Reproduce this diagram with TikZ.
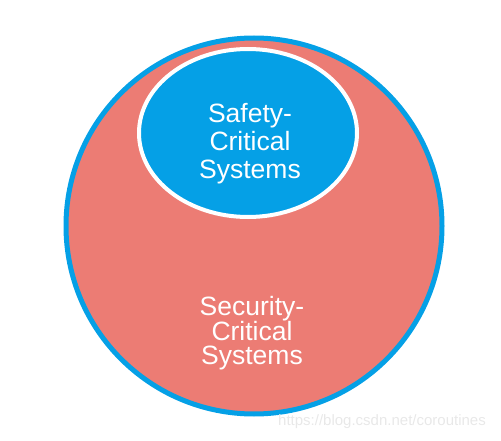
\documentclass[tikz,border=0pt]{standalone}
\usepackage{fontspec}
\setmainfont{Liberation Sans}
\usetikzlibrary{shapes.geometric}

\definecolor{safeblue}{RGB}{5,160,230}
\definecolor{securered}{RGB}{236,124,116}
\definecolor{markgray}{RGB}{232,232,232}

\tikzset{
  label text/.style={text=white, align=center},
}

\begin{document}
\begin{tikzpicture}[x=1pt, y=1pt]
            \useasboundingbox (0,0) rectangle (501,440);
            % --- outer circle: security-critical systems ---
            \node[circle, draw=safeblue, line width=5pt, fill=securered,
                  minimum size=376pt, inner sep=0pt] (security) at (254,214) {};
            % --- inner ellipse: safety-critical systems ---
            \node[ellipse, draw=white, line width=4pt, fill=safeblue,
                  minimum width=218pt, minimum height=168pt, inner sep=0pt] (safety) at (248,307) {};
            \node[label text, font=\fontsize{26.5}{28}\selectfont] (safetytext) at (250,296) {Safety-\\Critical\\Systems};
            \node[label text, font=\fontsize{26.5}{24}\selectfont] (securitytext) at (252,107) {Security-\\Critical\\Systems};
            % --- watermark ---
            \node[text=markgray, font=\fontsize{15}{18}\selectfont] (mark) at (382,18) {https://blog.csdn.net/coroutines};
        \end{tikzpicture}
\end{document}
